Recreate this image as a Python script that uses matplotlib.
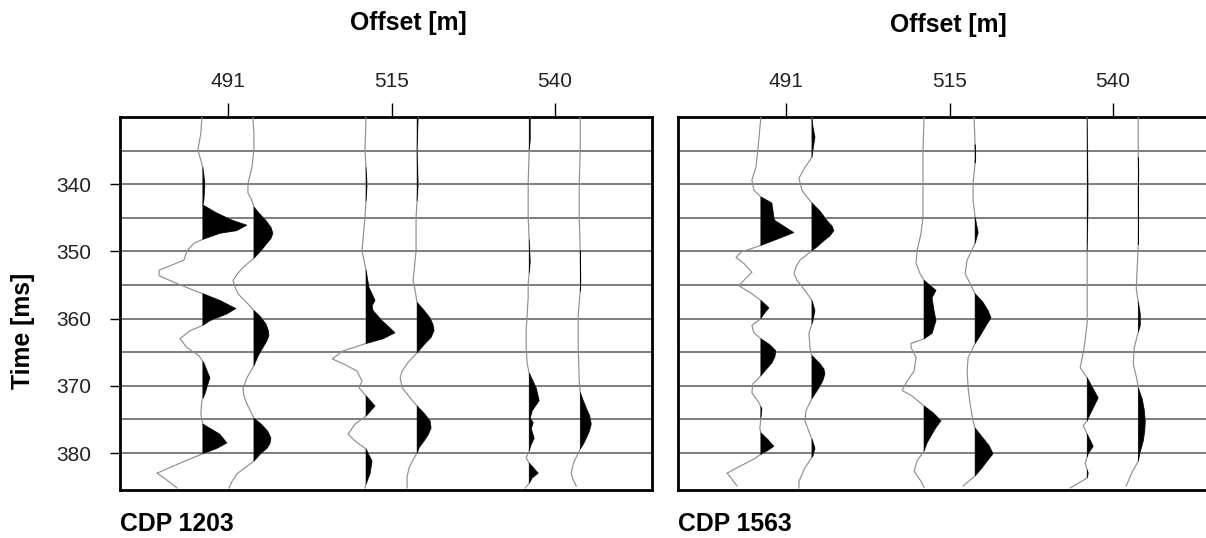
import numpy as np
import matplotlib
matplotlib.use("Agg")
import matplotlib.pyplot as plt

plt.rcParams['font.family'] = ['Liberation Sans', 'DejaVu Sans']

# --- Gather data: (time [ms], amplitude) picks for each wiggle trace ---
# two traces per offset: "a" left of the offset, "b" right of it
offsets = [490.6, 515.2, 539.8]
time_ticks = [340, 350, 360, 370, 380]

cdp1203_491_a = [(330.1, -1), (332.4, -2), (334.9, -5), (337.5, 0), (339.9, 2), (342.4, 1), (343.1, 0),
                 (344.3, 14), (345.4, 30), (346.1, 44), (346.9, 34), (347.3, 17), (348.2, 0), (348.8, -9),
                 (349.9, -16), (351.3, -19), (352.8, -44), (353.6, -44), (354.6, -29), (355.8, -9),
                 (356.3, 0), (357.3, 17), (358.5, 33), (359.3, 24), (360.3, 7), (361.0, 0), (361.8, -13),
                 (363.0, -23), (364.3, -16), (365.5, -4), (366.6, 1), (368.8, 7), (371.2, 2), (372.2, -1),
                 (374.2, -2), (375.7, 0), (377.2, 17), (378.5, 24), (379.3, 14), (380.1, 0), (381.5, -23),
                 (383.0, -46), (383.7, -39), (385.2, -26)]
cdp1203_491_b = [(330.1, -1), (332.4, 0), (334.9, 0), (337.5, -2), (339.9, -6), (341.3, -6), (342.4, -2),
                 (343.4, 0), (344.3, 5), (345.4, 12), (346.4, 17), (347.3, 19), (348.1, 17), (348.8, 13),
                 (349.9, 7), (351.0, 0), (352.4, -11), (353.4, -17), (354.3, -21), (355.3, -19), (356.3, -16),
                 (357.8, -6), (358.8, 0), (359.8, 7), (360.8, 12), (361.8, 14.5), (362.5, 15), (363.3, 13),
                 (364.3, 9), (365.6, 4), (367.0, 0), (368.0, -4), (368.8, -7), (370.4, -11), (371.5, -10),
                 (372.7, -7), (374.8, 0), (375.8, 8), (376.8, 14), (377.8, 17), (378.6, 16), (379.3, 13),
                 (380.2, 6), (381.2, 0), (382.2, -9), (383.1, -17), (384.2, -22), (385.2, -25)]
cdp1203_515_a = [(330.1, 0), (334.9, -1), (337.5, 0), (340.1, 1), (342.5, 0), (344.9, -1), (349.9, -4),
                 (352.8, 0), (355.4, 3), (356.3, 6), (357.3, 9), (358.1, 6), (358.8, 7), (360.3, 16),
                 (362.1, 29), (363.0, 17), (363.7, 0), (364.8, -23), (366.0, -34), (366.7, -23), (367.8, -9),
                 (369.3, -4), (370.3, -7), (371.5, 0), (373.0, 9), (374.5, 0), (375.7, -11), (377.2, -18),
                 (378.2, -11), (379.4, 0), (381.2, 6), (383.1, 4), (384.6, 0), (385.2, -1)]
cdp1203_515_b = [(330.1, 1), (334.9, 0), (340.1, 1), (344.9, -1), (349.9, -1), (354.3, -4), (355.8, -2),
                 (357.6, 0), (358.6, 6), (359.9, 13), (360.9, 16), (361.8, 17), (362.8, 14), (363.7, 8),
                 (364.4, 4), (365.1, 0), (366.0, -6), (366.7, -10), (367.8, -15), (368.8, -17), (370.3, -15),
                 (371.2, -10), (371.8, -7), (373.0, 0), (374.1, 7), (375.2, 13), (376.3, 14), (377.3, 11),
                 (378.2, 7), (379.2, 2), (380.0, 0), (381.0, -4), (382.2, -8), (383.5, -10), (385.2, -10)]
cdp1203_540_a = [(330.1, 1), (333.4, 1), (334.9, 0), (339.9, -1), (344.9, -1), (351.6, 1), (354.8, -1),
                 (356.9, -1), (359.3, -2), (361.8, -3), (364.3, -3), (366.7, -2), (368.1, 0), (370.3, 7),
                 (372.2, 10), (373.7, 3), (374.8, 1), (375.5, 4), (376.4, 2), (377.8, 5), (378.7, 2),
                 (379.7, 0), (380.7, -3), (381.5, 0), (383.0, 9), (383.7, 3), (384.5, 0), (385.2, -4)]
cdp1203_540_b = [(330.1, 0), (334.9, 0), (339.9, -1), (344.9, -1), (349.9, 0), (355.1, 0.5), (359.3, -2),
                 (364.3, -2), (369.3, -1), (371.0, 0), (372.2, 3), (373.3, 6), (374.5, 9.5), (375.7, 11),
                 (376.8, 9), (377.8, 6), (378.7, 3), (379.4, 0), (380.3, -3), (381.2, -6), (382.2, -8),
                 (383.1, -9), (384.0, -7), (384.9, -4)]

cdp1563_491_a = [(330.1, 0), (334.9, -3), (337.5, -5), (339.4, -9), (340.9, -7), (341.9, 0), (342.8, 11),
                 (344.9, 13), (345.4, 14), (347.2, 33), (347.9, 21), (349.1, 0), (350.1, -20), (350.9, -25),
                 (351.8, -17), (353.1, -9), (354.3, -17), (355.1, -22), (356.3, -9), (357.3, 0), (358.4, 8),
                 (359.3, 3), (360.0, 0), (361.0, -9), (362.1, -7), (363.0, 0), (363.9, 9), (364.8, 15),
                 (365.7, 14), (366.6, 11), (367.6, 5), (368.5, 0), (369.7, -8), (371.0, -9), (372.5, -2),
                 (373.4, 1), (374.8, 0), (376.3, -1), (377.0, 0), (378.0, 7), (379.0, 13), (379.6, 7),
                 (380.1, 1), (380.9, -7), (382.2, -24), (383.0, -34), (383.7, -30), (384.9, -24)]
cdp1563_491_b = [(330.1, 0), (331.5, 1), (333.0, 3), (334.9, 1), (336.0, 0), (337.5, -7), (339.1, -13),
                 (340.9, -10), (341.9, -5), (342.8, 0), (344.0, 8), (345.4, 15), (346.2, 20), (346.9, 22),
                 (347.7, 18), (348.4, 12), (349.2, 6), (349.9, 0), (351.3, -12), (352.3, -16), (353.3, -18),
                 (354.3, -15), (355.8, -7), (357.3, 0), (358.8, 3), (360.3, 1), (362.2, -3), (364.3, -2),
                 (365.5, 0), (366.7, 8), (367.5, 12), (368.2, 13), (369.2, 11), (370.3, 7), (371.2, 3),
                 (371.9, 0), (373.7, -6), (375.2, -7), (377.2, -2), (377.9, 0), (379.3, 3), (380.4, 1),
                 (382.2, -7), (384.2, -13), (385.2, -13)]
cdp1563_515_a = [(330.1, 0), (334.9, -1), (344.9, -1), (347.3, -3), (349.9, -7), (351.8, -8), (353.3, -4),
                 (354.3, 0), (355.8, 12), (356.9, 8), (358.8, 10), (360.3, 12), (362.2, 8), (363.0, 0),
                 (363.7, -13), (364.3, -13), (365.8, -8), (367.8, -10), (369.3, -17), (370.7, -22),
                 (371.5, -12), (373.0, 0), (374.0, 9), (375.2, 17), (376.2, 12), (377.2, 8), (378.5, 3),
                 (379.7, 0), (381.2, -7), (382.7, -10), (384.2, -3), (385.1, 0)]
cdp1563_515_b = [(330.1, -1), (336.1, 0.5), (339.9, -2), (342.4, -2), (344.9, 0), (347.2, 3), (348.8, 0),
                 (351.3, -8), (353.3, -10), (355.4, -3), (356.3, 0), (357.6, 8), (358.8, 13), (359.9, 16),
                 (360.8, 12), (361.8, 8), (362.8, 4), (363.7, 0), (365.8, -7), (367.8, -8), (370.3, -7),
                 (372.7, -5), (375.2, -2), (376.3, 0), (377.6, 7), (378.9, 14), (380.1, 18), (381.2, 12),
                 (382.2, 7), (383.4, 0), (384.9, -12)]
cdp1563_540_a = [(330.1, 0), (339.9, 0.7), (343.9, 0.7), (349.9, 0), (357.3, 0), (360.7, 0), (364.3, -3),
                 (367.3, -7), (368.8, 0), (371.8, 11), (374.2, 3), (375.2, 0), (375.9, -4), (377.2, 0),
                 (379.0, 6), (380.1, 1), (381.5, -2), (383.0, 1), (383.7, 0), (384.5, -9), (385.2, -17)]
cdp1563_540_b = [(330.1, 0), (336.0, 0), (338.5, 0.4), (341.0, 0), (346.0, 0.3), (349.0, 0), (352.4, -1),
                 (355.5, -2), (357.5, 0), (359.3, 2), (361.0, 2), (362.0, 0), (364.3, -4), (366.7, -5),
                 (369.3, -1), (370.3, 0), (372.0, 4), (373.6, 6), (375.2, 7), (376.7, 6.5), (378.2, 5),
                 (379.8, 2), (381.2, 0), (383.1, -7), (384.9, -12)]

panels = [
    ("CDP 1203", [cdp1203_491_a, cdp1203_491_b, cdp1203_515_a, cdp1203_515_b, cdp1203_540_a, cdp1203_540_b]),
    ("CDP 1563", [cdp1563_491_a, cdp1563_491_b, cdp1563_515_a, cdp1563_515_b, cdp1563_540_a, cdp1563_540_b]),
]

GAIN = 0.15         # metres of deflection per amplitude unit
HALF_SEP = 3.85     # distance of each trace from its offset [m]
TRACE_COLOR = '#8f8f8f'
GRID_COLOR = '#7d7d7d'


def draw_trace(ax, x0, picks):
    t = np.array([p[0] for p in picks])
    amp = np.array([p[1] for p in picks]) * GAIN
    x = x0 + amp
    ax.plot(x, t, color=TRACE_COLOR, lw=0.85, zorder=3)
    ax.fill_betweenx(t, x0, x, where=amp > 0, interpolate=True,
                     facecolor='black', edgecolor='black', lw=0.4, zorder=4)


fig = plt.figure(figsize=(12.06, 5.38), dpi=100)
W, H = 1206, 538
axes_px = [(120, 117, 532, 373), (678, 117, 532, 373)]

for (left, top, w, h), (cdp_name, traces) in zip(axes_px, panels):
    ax = fig.add_axes([left / W, 1 - (top + h) / H, w / W, h / H])
    for t in np.arange(335, 381, 5):
        ax.axhline(t, color=GRID_COLOR, lw=1.4, zorder=1)
    for i, picks in enumerate(traces):
        off = offsets[i // 2]
        x0 = off - HALF_SEP if i % 2 == 0 else off + HALF_SEP
        draw_trace(ax, x0, picks)

    ax.set_xlim(474.26, 554.47)
    ax.set_ylim(385.5, 330)
    ax.xaxis.tick_top()
    ax.set_xticks(offsets)
    ax.set_xticklabels([f"{o:.0f}" for o in offsets])
    ax.tick_params(axis='x', direction='out', length=10, width=1, pad=9, labelsize=15,
                   labelcolor='#222222')
    for s in ax.spines.values():
        s.set_linewidth(2)
    if cdp_name == "CDP 1203":
        ax.set_yticks(time_ticks)
        ax.tick_params(axis='y', direction='out', length=7, width=1, pad=14, labelsize=15,
                       labelcolor='#222222')
    else:
        ax.set_yticks([])
    fig.text(left / W, 1 - 524 / H, cdp_name, fontsize=17.8, fontweight='bold',
             ha='left', va='center')

fig.text(408 / W, 1 - 23 / H, "Offset [m]", fontsize=17.8, fontweight='bold', ha='center', va='center')
fig.text(948 / W, 1 - 25 / H, "Offset [m]", fontsize=17.8, fontweight='bold', ha='center', va='center')
fig.text(23 / W, 1 - 331 / H, "Time [ms]", fontsize=17.8, fontweight='bold', rotation=90,
         ha='center', va='center')

fig.savefig("out.png", dpi=100)
plt.close(fig)
